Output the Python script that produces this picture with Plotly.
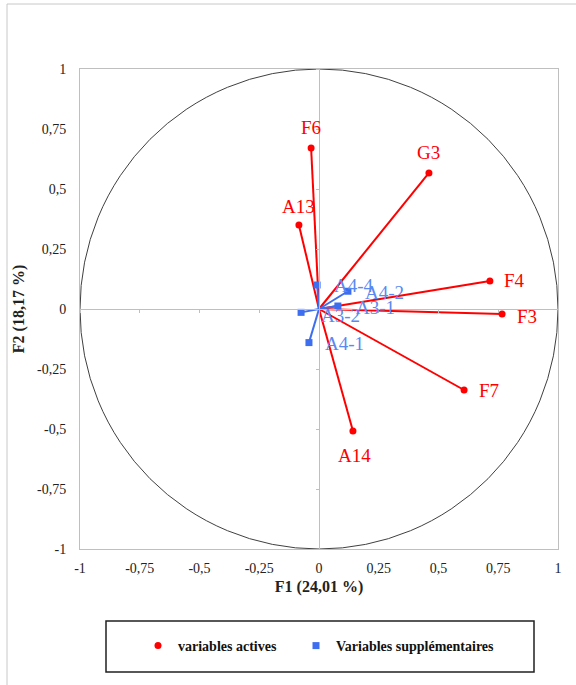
import plotly.graph_objects as go

# Active variables
act_names = ["F6", "G3", "A13", "F4", "F3", "F7", "A14"]
act_x = [-0.033, 0.46, -0.084, 0.715, 0.766, 0.607, 0.142]
act_y = [0.671, 0.567, 0.35, 0.117, -0.021, -0.3375, -0.508]

# Supplementary variables
sup_names = ["A4-4", "A4-2", "A3-1", "A3-2", "A4-1"]
sup_x = [-0.008, 0.121, 0.079, -0.075, -0.042]
sup_y = [0.10, 0.074, 0.0125, -0.014, -0.14]

tick_vals = [-1, -0.75, -0.5, -0.25, 0, 0.25, 0.5, 0.75, 1]
tick_text = ["-1", "-0,75", "-0,5", "-0,25", "0", "0,25", "0,5", "0,75", "1"]

RED = "#FF0000"
BLUE = "#3D6EF0"
BLUE_TXT = "#5A89F2"
FONT = "Liberation Serif"

W, H = 576, 685
L, R, T, B = 80, 18, 69, 136
pw, ph = W - L - R, H - T - B


def px2x(p):
    return (p - L) / pw


def px2y(p):
    return (H - B - p) / ph


fig = go.Figure()

# Vector lines
lx, ly = [], []
for x, y in zip(act_x, act_y):
    lx += [0, x, None]
    ly += [0, y, None]
fig.add_trace(go.Scatter(x=lx, y=ly, mode="lines", line=dict(color=RED, width=2),
                         showlegend=False, hoverinfo="skip"))
sx, sy = [], []
for x, y in zip(sup_x, sup_y):
    sx += [0, x, None]
    sy += [0, y, None]
fig.add_trace(go.Scatter(x=sx, y=sy, mode="lines", line=dict(color=BLUE, width=2),
                         showlegend=False, hoverinfo="skip"))

fig.add_trace(go.Scatter(x=act_x, y=act_y, mode="markers", name="variables actives",
                         marker=dict(color=RED, size=7, symbol="circle"), legend="legend"))
fig.add_trace(go.Scatter(x=sup_x, y=sup_y, mode="markers", name="Variables supplémentaires",
                         marker=dict(color=BLUE, size=7, symbol="square"), legend="legend2"))

# Label offsets (pixels)
act_off = {
    "F6": (0, 20, "center"), "G3": (0, 20, "center"), "A13": (0, 19, "center"),
    "F4": (12, 0, "left"), "F3": (13, -2, "left"), "F7": (13, 0, "left"),
    "A14": (2, -25, "center"),
}
sup_off = {
    "A4-4": (15, 0), "A4-2": (15, -1), "A3-1": (16, -1), "A3-2": (18, -3), "A4-1": (14, -1),
}
for n, x, y in zip(act_names, act_x, act_y):
    dx, dy, anc = act_off[n]
    fig.add_annotation(x=x, y=y, text=n, showarrow=False, xshift=dx, yshift=dy,
                       xanchor=anc, yanchor="middle",
                       font=dict(family=FONT, size=19, color=RED))
for n, x, y in zip(sup_names, sup_x, sup_y):
    dx, dy = sup_off[n]
    fig.add_annotation(x=x, y=y, text=n, showarrow=False, xshift=dx, yshift=dy,
                       xanchor="left", yanchor="middle",
                       font=dict(family=FONT, size=19, color=BLUE_TXT))

# Unit circle
fig.add_shape(type="circle", xref="x", yref="y", x0=-1, y0=-1, x1=1, y1=1,
              line=dict(color="#404040", width=1), layer="below")

# Outer frame
fig.add_shape(type="rect", xref="paper", yref="paper",
              x0=px2x(7), x1=px2x(580), y0=px2y(692), y1=px2y(4),
              line=dict(color="#C8C8C8", width=1))
# Legend box
fig.add_shape(type="rect", xref="paper", yref="paper",
              x0=px2x(106), x1=px2x(534), y0=px2y(672), y1=px2y(621),
              line=dict(color="#202020", width=1.5))

axis_common = dict(range=[-1, 1], tickvals=tick_vals, ticktext=tick_text,
                   showgrid=False, zeroline=False, showline=True, mirror=True,
                   linecolor="#BFBFBF", linewidth=1, ticks="",
                   tickfont=dict(family=FONT, size=14, color="#222222"))

legend_common = dict(orientation="h", xanchor="left", y=px2y(646), yanchor="middle",
                     borderwidth=0, bgcolor="rgba(0,0,0,0)",
                     font=dict(family=FONT, size=14, color="#111111", weight="bold"))

fig.update_layout(
    width=W, height=H,
    margin=dict(l=L, r=R, t=T, b=B),
    paper_bgcolor="white", plot_bgcolor="white",
    font=dict(family=FONT),
    xaxis=dict(**axis_common, ticklabelstandoff=6,
               title=dict(text="F1 (24,01 %)", standoff=6,
               font=dict(family=FONT, size=16, color="#222222", weight="bold"))),
    yaxis=dict(**axis_common, ticklabelstandoff=10,
               title=dict(text="F2 (18,17 %)", standoff=8,
               font=dict(family=FONT, size=16, color="#222222", weight="bold"))),
    xaxis2=dict(overlaying="x", anchor="free", position=0.5, range=[-1, 1],
                tickvals=tick_vals, showticklabels=False, ticks="outside", ticklen=3,
                tickcolor="#BFBFBF", showline=True, linecolor="#BFBFBF",
                showgrid=False, zeroline=False),
    yaxis2=dict(overlaying="y", anchor="free", position=0.5, range=[-1, 1],
                tickvals=tick_vals, showticklabels=False, ticks="outside", ticklen=3,
                tickcolor="#BFBFBF", showline=True, linecolor="#BFBFBF",
                showgrid=False, zeroline=False),
    legend=dict(**legend_common, x=px2x(138)),
    legend2=dict(**legend_common, x=px2x(296)),
    showlegend=True,
)

# dummy trace to activate overlay axes
fig.add_trace(go.Scatter(x=[None], y=[None], xaxis="x2", yaxis="y2", showlegend=False,
                         hoverinfo="skip"))

fig.write_html("out.html")
